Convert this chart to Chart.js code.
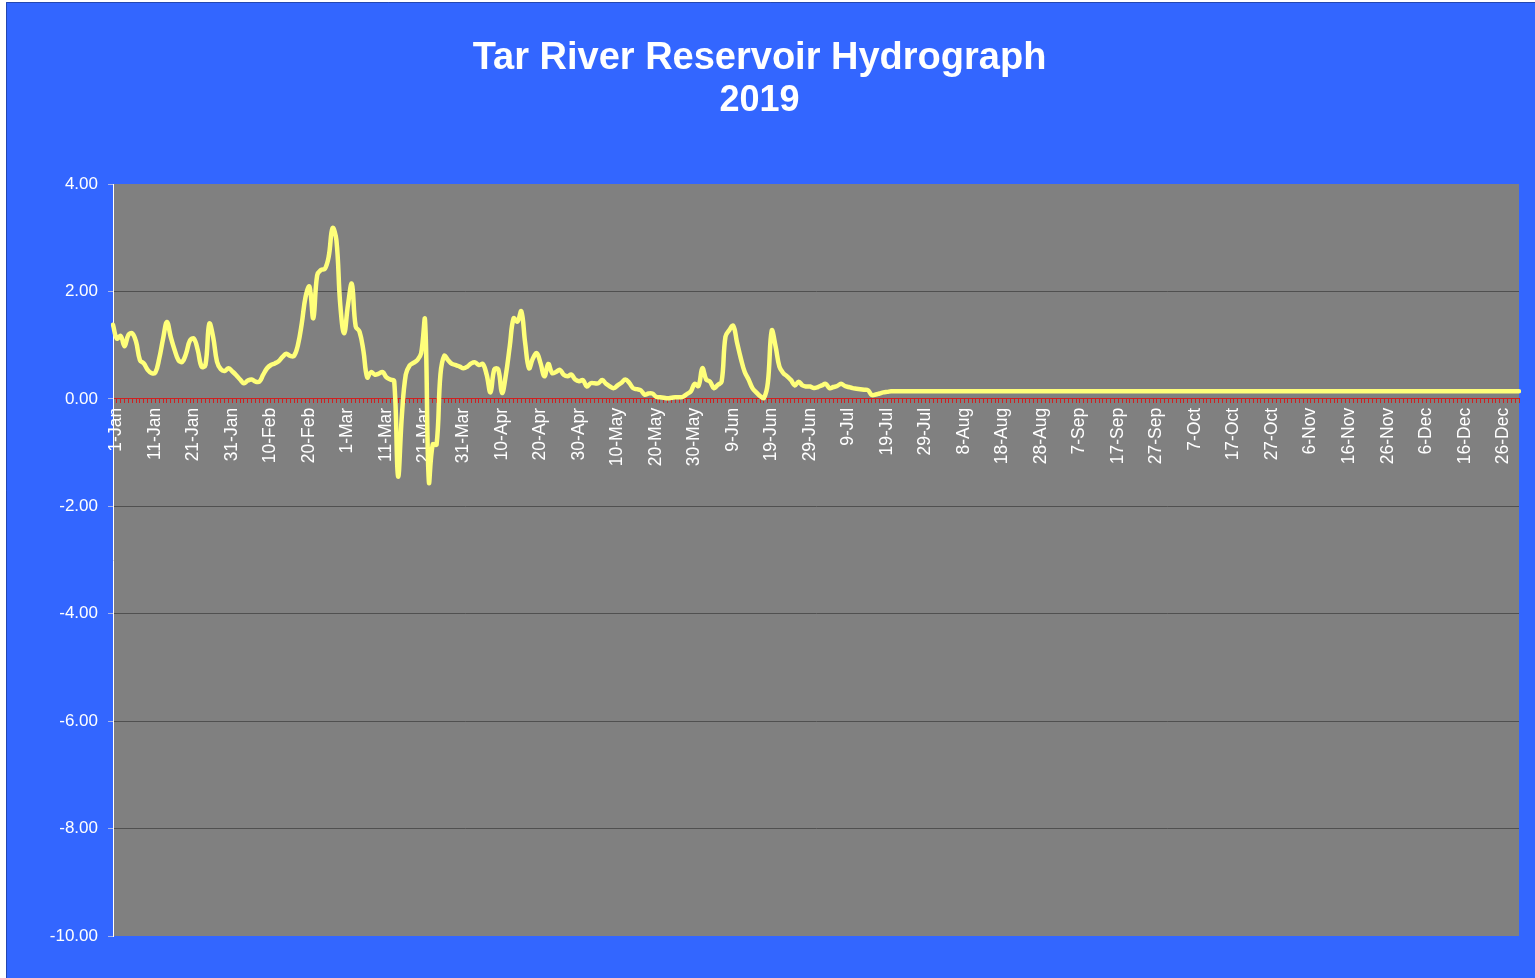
<!DOCTYPE html>
<html>
<head>
<meta charset="utf-8">
<script src="https://cdn.jsdelivr.net/npm/chart.js@4.4.1/dist/chart.umd.min.js"></script>
<style>
html,body{margin:0;padding:0;background:#ffffff;overflow:hidden}
canvas{display:block}
</style>
</head>
<body>
<canvas id="c" width="1535" height="978"></canvas>
<script>
// ---- Data (daily reservoir level; the sheet's date axis includes 29-Feb) ----
const monthNames = ['Jan','Feb','Mar','Apr','May','Jun','Jul','Aug','Sep','Oct','Nov','Dec'];
const monthDays  = [31,29,31,30,31,30,31,31,30,31,30,31];

const jan = [1.38,1.12,1.17,0.98,1.19,1.22,1.06,0.72,0.66,0.54,0.48,0.49,0.75,1.12,1.43,1.15,0.91,0.72,0.69,0.85,1.09,1.12,0.91,0.60,0.63,1.40,1.15,0.69,0.55,0.52,0.57];
const feb = [0.51,0.44,0.36,0.29,0.34,0.36,0.32,0.32,0.45,0.57,0.63,0.66,0.70,0.78,0.84,0.80,0.80,1.00,1.40,1.90,2.09,1.50,2.30,2.40,2.42,2.65,3.18,2.95,1.75];
const mar = [1.22,1.75,2.14,1.35,1.25,0.90,0.40,0.50,0.45,0.47,0.50,0.40,0.36,0.33,-1.44,-0.30,0.45,0.62,0.67,0.72,0.85,1.47,-1.54,-0.85,-0.85,0.45,0.80,0.72,0.65,0.63,0.60];
const apr = [0.57,0.60,0.66,0.68,0.63,0.65,0.45,0.12,0.55,0.55,0.11,0.45,0.98,1.50,1.44,1.63,1.04,0.57,0.75,0.85,0.66,0.42,0.65,0.48,0.50,0.54,0.45,0.42,0.45,0.36];
const may = [0.33,0.35,0.23,0.29,0.29,0.29,0.35,0.28,0.23,0.20,0.25,0.30,0.36,0.30,0.20,0.18,0.16,0.08,0.10,0.10,0.04,0.03,0.02,0.01,0.02,0.03,0.03,0.04,0.09,0.14,0.28];
const jun = [0.24,0.57,0.36,0.32,0.20,0.26,0.32,1.16,1.28,1.36,1.05,0.75,0.50,0.36,0.20,0.12,0.05,0.02,0.30,1.27,0.98,0.60,0.48,0.42,0.35,0.25,0.32,0.25,0.23,0.23];
const jul = [0.20,0.22,0.25,0.28,0.20,0.22,0.24,0.28,0.24,0.22,0.20,0.19,0.18,0.17,0.16,0.07,0.08,0.10,0.12,0.13,0.14,0.14,0.14,0.14,0.14,0.14,0.14,0.14,0.14,0.14,0.14];
const aug = [0.14,0.14,0.14,0.14,0.14,0.14,0.14,0.14,0.14,0.14,0.14,0.14,0.14,0.14,0.14,0.14,0.14,0.14,0.14,0.14,0.14,0.14,0.14,0.14,0.14,0.14,0.14,0.14,0.14,0.14,0.14];
const sep = [0.14,0.14,0.14,0.14,0.14,0.14,0.14,0.14,0.14,0.14,0.14,0.14,0.14,0.14,0.14,0.14,0.14,0.14,0.14,0.14,0.14,0.14,0.14,0.14,0.14,0.14,0.14,0.14,0.14,0.14];
const oct = [0.14,0.14,0.14,0.14,0.14,0.14,0.14,0.14,0.14,0.14,0.14,0.14,0.14,0.14,0.14,0.14,0.14,0.14,0.14,0.14,0.14,0.14,0.14,0.14,0.14,0.14,0.14,0.14,0.14,0.14,0.14];
const nov = [0.14,0.14,0.14,0.14,0.14,0.14,0.14,0.14,0.14,0.14,0.14,0.14,0.14,0.14,0.14,0.14,0.14,0.14,0.14,0.14,0.14,0.14,0.14,0.14,0.14,0.14,0.14,0.14,0.14,0.14];
const dec = [0.14,0.14,0.14,0.14,0.14,0.14,0.14,0.14,0.14,0.14,0.14,0.14,0.14,0.14,0.14,0.14,0.14,0.14,0.14,0.14,0.14,0.14,0.14,0.14,0.14,0.14,0.14,0.14,0.14,0.14,0.14];

const yTickValues = [4,2,0,-2,-4,-6,-8,-10];
const yGridValues = [2,-2,-4,-6,-8];
const titleText = 'Tar River Reservoir Hydrograph';
const subtitleText = '2019';

// ---- Build category labels and series ----
const dayLabels = [];
monthNames.forEach((m, i) => { for (let d = 1; d <= monthDays[i]; d++) dayLabels.push(d + '-' + m); });
const levels = [].concat(jan, feb, mar, apr, may, jun, jul, aug, sep, oct, nov, dec);

const FAMILY = "'Liberation Sans', Arial, sans-serif";

const backdrop = {
  id: 'backdrop',
  beforeDraw(chart) {
    const {ctx, chartArea: a, width, height} = chart;
    ctx.save();
    ctx.fillStyle = '#ffffff';
    ctx.fillRect(0, 0, width, height);
    ctx.fillStyle = '#3366ff';
    ctx.fillRect(6, 2, width - 6, height - 2);
    ctx.strokeStyle = '#2447b0';
    ctx.lineWidth = 1;
    ctx.beginPath();
    ctx.moveTo(6.5, height);
    ctx.lineTo(6.5, 2.5);
    ctx.lineTo(width, 2.5);
    ctx.stroke();
    ctx.fillStyle = '#808080';
    ctx.fillRect(a.left, a.top, a.right - a.left, a.bottom - a.top);
    ctx.restore();
  }
};

new Chart(document.getElementById('c'), {
  type: 'line',
  data: {
    labels: dayLabels,
    datasets: [{
      data: levels,
      borderColor: '#ffff7a',
      borderWidth: 4.5,
      tension: 0.4,
      pointRadius: 0,
      fill: false,
      borderCapStyle: 'round',
      borderJoinStyle: 'round'
    }]
  },
  options: {
    responsive: false,
    animation: false,
    layout: { padding: { left: 0, right: 16, top: 0, bottom: 42 } },
    plugins: {
      legend: { display: false },
      tooltip: { enabled: false },
      title: {
        display: true,
        text: titleText,
        color: '#ffffff',
        font: { size: 38, weight: 'bold', family: FAMILY, lineHeight: 1.1 },
        padding: { top: 38, bottom: 0 }
      },
      subtitle: {
        display: true,
        text: subtitleText,
        color: '#ffffff',
        font: { size: 36, weight: 'bold', family: FAMILY, lineHeight: 1.2 },
        padding: { top: 0, bottom: 61 }
      }
    },
    scales: {
      x: {
        type: 'category',
        offset: false,
        position: { y: 0 },
        afterFit(s) { s.paddingLeft = 0; s.paddingRight = 0; },
        grid: { drawOnChartArea: false, color: '#d02020', tickLength: 4, tickWidth: 1 },
        border: { color: '#d02020', width: 1 },
        ticks: {
          autoSkip: false,
          minRotation: 90,
          maxRotation: 90,
          padding: 5,
          labelOffset: 3.5,
          color: '#ffffff',
          font: { size: 17.5, family: FAMILY },
          callback: (v, i) => (i % 10 === 0 ? dayLabels[i] : '')
        }
      },
      y: {
        min: -10,
        max: 4,
        afterFit(s) { s.width = 113; },
        afterBuildTicks(s) { s.ticks = yTickValues.map(v => ({ value: v })); },
        grid: {
          color: c => (c.tick && yGridValues.includes(c.tick.value) ? '#505050' : 'rgba(0,0,0,0)'),
          tickColor: '#a9b6e6',
          tickLength: 5,
          lineWidth: 1
        },
        border: { color: '#ffffff', width: 1 },
        ticks: {
          color: '#ffffff',
          padding: 10,
          font: { size: 17, family: FAMILY },
          callback: v => Number(v).toFixed(2)
        }
      }
    }
  },
  plugins: [backdrop]
});
</script>
</body>
</html>
